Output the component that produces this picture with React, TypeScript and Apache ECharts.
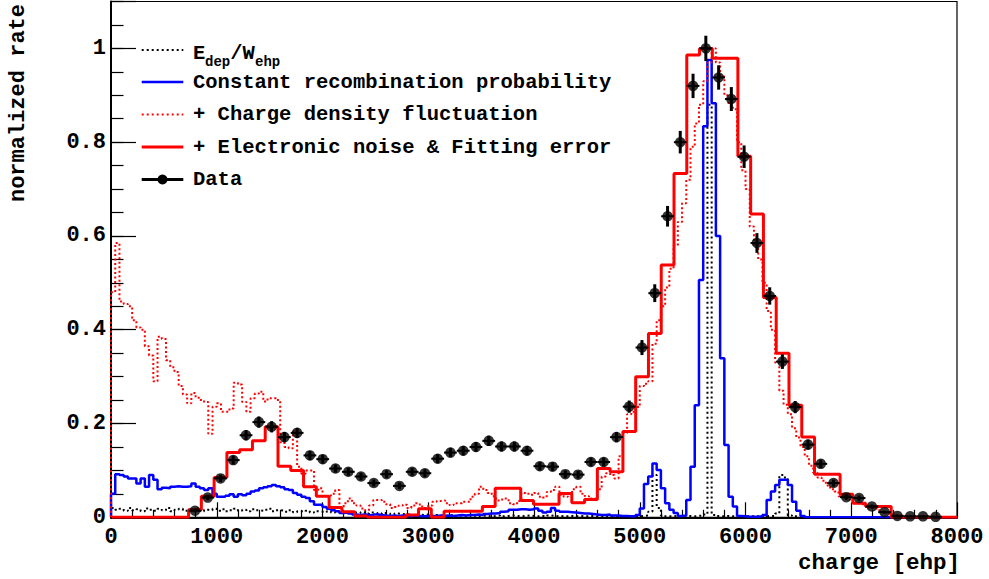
import React, { useEffect, useRef } from "react";
import * as echarts from "echarts";

// ---------------- data ----------------
// coarse binning (data and "+ Electronic noise & Fitting error")
const COARSE_X0 = 8.8;
const COARSE_W = 120.8;
// fine binning (simulated histograms)
const FINE_X0 = 0;
const FINE_W = 40;

const xTicks = [0, 1000, 2000, 3000, 4000, 5000, 6000, 7000, 8000];
const yTicks = [0, 0.2, 0.4, 0.6, 0.8, 1];

// + Electronic noise & Fitting error (66 coarse bins)
const redSolid = [
  0, 0, 0, 0, 0, 0, 0.016, 0.045, 0.085, 0.138,
  0.144, 0.163, 0.193, 0.109, 0.1, 0.065, 0.045, 0.021, 0.012, 0.003,
  0, 0, 0, 0.005, 0.018, 0, 0.013, 0.013, 0.013, 0.023,
  0.062, 0.062, 0.036, 0.028, 0.028, 0.051, 0.031, 0.038, 0.104, 0.097,
  0.183, 0.3, 0.392, 0.538, 0.733, 0.986, 1.0, 0.979, 0.979, 0.77,
  0.647, 0.469, 0.35, 0.239, 0.171, 0.092, 0.092, 0.049, 0.03, 0.023,
  0.023, 0, 0, 0, 0, 0,
];

// Data points
const dataX = [
  794, 915, 1036, 1156, 1277, 1398, 1519, 1640, 1760, 1881,
  2002, 2123, 2244, 2364, 2485, 2606, 2727, 2848, 2968, 3089,
  3210, 3331, 3451, 3572, 3693, 3814, 3934, 4055, 4176, 4296,
  4417, 4538, 4659, 4780, 4900, 5021, 5142, 5263, 5383, 5504,
  5625, 5746, 5866, 5987, 6108, 6229, 6349, 6470, 6591, 6712,
  6832, 6953, 7074, 7195, 7315, 7436, 7557, 7678, 7798,
];
const dataY = [
  0.014, 0.042, 0.083, 0.122, 0.175, 0.203, 0.193, 0.171, 0.18, 0.132,
  0.124, 0.104, 0.097, 0.087, 0.073, 0.092, 0.067, 0.097, 0.094, 0.125,
  0.138, 0.142, 0.15, 0.163, 0.151, 0.151, 0.142, 0.109, 0.108, 0.092,
  0.091, 0.118, 0.118, 0.171, 0.236, 0.362, 0.478, 0.642, 0.8, 0.92,
  1.0, 0.938, 0.892, 0.769, 0.585, 0.472, 0.332, 0.235, 0.155, 0.114,
  0.073, 0.043, 0.041, 0.023, 0.011, 0.003, 0.002, 0.002, 0.001,
];
const dataErr = [
  0.003, 0.0055, 0.008, 0.0095, 0.011, 0.012, 0.012, 0.011, 0.011, 0.01,
  0.0095, 0.0087, 0.0084, 0.008, 0.0073, 0.0082, 0.007, 0.0084, 0.0083, 0.0095,
  0.01, 0.01, 0.0105, 0.011, 0.0105, 0.0105, 0.01, 0.009, 0.009, 0.0082,
  0.0082, 0.0093, 0.0093, 0.011, 0.013, 0.016, 0.019, 0.022, 0.024, 0.026,
  0.027, 0.026, 0.0255, 0.024, 0.021, 0.0185, 0.0155, 0.013, 0.0106, 0.009,
  0.0073, 0.0056, 0.0055, 0.004, 0.0028, 0.0015, 0.0012, 0.0012, 0.0009,
];

// Constant recombination probability (200 fine bins)
const blueFine = [
  0.05, 0.092, 0.09, 0.087, 0.083, 0.083, 0.072, 0.083, 0.065, 0.09,
  0.08, 0.06, 0.063, 0.062, 0.065, 0.066, 0.065, 0.065, 0.066, 0.072,
  0.065, 0.062, 0.058, 0.062, 0.05, 0.044, 0.044, 0.046, 0.049, 0.044,
  0.049, 0.047, 0.05, 0.055, 0.057, 0.062, 0.064, 0.066, 0.069, 0.066,
  0.064, 0.06, 0.058, 0.052, 0.048, 0.044, 0.041, 0.034, 0.027, 0.027,
  0.022, 0.018, 0.015, 0.013, 0.009, 0.01, 0.008, 0.006, 0.005, 0.006,
  0.005, 0.004, 0.006, 0.005, 0.004, 0.003, 0.004, 0.003, 0.004, 0.005,
  0.003, 0.004, 0.003, 0.002, 0.003, 0.003, 0.003, 0.004, 0.003, 0.004,
  0.003, 0.004, 0.005, 0.004, 0.005, 0.005, 0.006, 0.005, 0.007, 0.008,
  0.008, 0.009, 0.012, 0.013, 0.016, 0.016, 0.017, 0.017, 0.016, 0.017,
  0.019, 0.014, 0.01, 0.012, 0.02, 0.014, 0.012, 0.012, 0.011, 0.01,
  0.009, 0.008, 0.008, 0.007, 0.006, 0.005, 0.005, 0.006, 0.004, 0.004,
  0.003, 0.003, 0.002, 0.002, 0.005, 0.019, 0.071, 0.087, 0.115, 0.101,
  0.062, 0.03, 0.016, 0.009, 0.003, 0.004, 0.037, 0.108, 0.239, 0.506,
  0.834, 0.975, 0.883, 0.6, 0.339, 0.154, 0.044, 0.023, 0.003, 0.002,
  0.001, 0.001, 0.001, 0.002, 0.005, 0.037, 0.055, 0.069, 0.08, 0.08,
  0.069, 0.033, 0.014, 0.003, 0, 0, 0, 0, 0, 0,
  0, 0, 0, 0, 0, 0, 0, 0, 0, 0,
  0, 0, 0, 0, 0, 0, 0, 0, 0, 0,
  0, 0, 0, 0, 0, 0, 0, 0, 0, 0,
];

// + Charge density fluctuation (200 fine bins)
const redDotFine = [
  0.48, 0.585, 0.46, 0.455, 0.45, 0.42, 0.405, 0.4, 0.365, 0.345,
  0.29, 0.385, 0.38, 0.335, 0.32, 0.31, 0.28, 0.262, 0.243, 0.265,
  0.255, 0.25, 0.246, 0.178, 0.236, 0.243, 0.225, 0.225, 0.232, 0.287,
  0.283, 0.246, 0.225, 0.254, 0.264, 0.268, 0.247, 0.254, 0.254, 0.25,
  0.16, 0.15, 0.147, 0.183, 0.108, 0.093, 0.1, 0.1, 0.058, 0.062,
  0.045, 0.046, 0.05, 0.058, 0.022, 0.03, 0.04, 0.03, 0.025, 0.019,
  0.015, 0.025, 0.037, 0.037, 0.033, 0.028, 0.02, 0.022, 0.025, 0.027,
  0.02, 0.025, 0.03, 0.023, 0.02, 0.025, 0.033, 0.035, 0.036, 0.03,
  0.026, 0.03, 0.03, 0.033, 0.033, 0.044, 0.05, 0.065, 0.058, 0.052,
  0.045, 0.036, 0.038, 0.04, 0.03, 0.028, 0.035, 0.052, 0.05, 0.048,
  0.052, 0.044, 0.042, 0.054, 0.058, 0.065, 0.048, 0.044, 0.052, 0.06,
  0.065, 0.05, 0.045, 0.04, 0.04, 0.06, 0.087, 0.094, 0.09, 0.083,
  0.13, 0.18, 0.22, 0.225, 0.235, 0.28, 0.285, 0.29, 0.37, 0.42,
  0.45, 0.49, 0.53, 0.58, 0.63, 0.67, 0.72, 0.79, 0.84, 0.88,
  0.93, 0.97, 1.0, 0.97, 0.94, 0.9, 0.88, 0.87, 0.8, 0.74,
  0.7, 0.62, 0.58, 0.55, 0.5, 0.44, 0.4, 0.33, 0.27, 0.24,
  0.22, 0.19, 0.17, 0.15, 0.13, 0.11, 0.095, 0.085, 0.078, 0.068,
  0.06, 0.055, 0.045, 0.04, 0.038, 0.035, 0.03, 0.028, 0.025, 0.02,
  0.02, 0.015, 0.012, 0.01, 0.008, 0.005, 0.004, 0.003, 0.002, 0.002,
  0.001, 0.001, 0.001, 0, 0, 0, 0, 0, 0, 0,
];

// E_dep / W_ehp (200 fine bins)
const edepFine = [
  0.02, 0.016, 0.018, 0.014, 0.02, 0.015, 0.017, 0.013, 0.019, 0.016,
  0.014, 0.018, 0.015, 0.02, 0.013, 0.016, 0.018, 0.014, 0.017, 0.015,
  0.019, 0.013, 0.016, 0.015, 0.018, 0.014, 0.017, 0.013, 0.015, 0.018,
  0.014, 0.016, 0.013, 0.017, 0.015, 0.014, 0.016, 0.018, 0.013, 0.015,
  0.014, 0.012, 0.015, 0.011, 0.013, 0.012, 0.014, 0.01, 0.013, 0.012,
  0.011, 0.013, 0.01, 0.012, 0.009, 0.011, 0.012, 0.01, 0.009, 0.011,
  0.008, 0.01, 0.009, 0.007, 0.009, 0.008, 0.006, 0.008, 0.007, 0.006,
  0.007, 0.005, 0.006, 0.005, 0.006, 0.004, 0.005, 0.004, 0.003, 0.004,
  0.005, 0.003, 0.004, 0.003, 0.004, 0.005, 0.003, 0.004, 0.003, 0.002,
  0.003, 0.004, 0.002, 0.003, 0.004, 0.003, 0.002, 0.003, 0.004, 0.003,
  0.002, 0.003, 0.002, 0.004, 0.003, 0.002, 0.003, 0.002, 0.003, 0.002,
  0.003, 0.002, 0.002, 0.003, 0.002, 0.002, 0.003, 0.002, 0.002, 0.003,
  0.002, 0.003, 0.002, 0.003, 0.002, 0.003, 0.004, 0.012, 0.09, 0.02,
  0.004, 0.002, 0.002, 0.003, 0.002, 0.002, 0.003, 0.002, 0.003, 0.004,
  0.006, 0.88, 0.005, 0.003, 0.002, 0.003, 0.002, 0.002, 0.003, 0.002,
  0.002, 0.002, 0.002, 0.002, 0.002, 0.003, 0.003, 0.008, 0.09, 0.085,
  0.004, 0.002, 0.001, 0.001, 0, 0, 0, 0, 0, 0,
  0, 0, 0, 0, 0, 0, 0, 0, 0, 0,
  0, 0, 0, 0, 0, 0, 0, 0, 0, 0,
  0, 0, 0, 0, 0, 0, 0, 0, 0, 0,
];

// ---------------- helpers ----------------
const FONT = '"Liberation Mono", "Courier New", monospace';

function stepPoints(values: number[], x0: number, w: number, xEnd?: number) {
  const pts: number[][] = [[x0, 0]];
  values.forEach((v, i) => {
    pts.push([x0 + i * w, v]);
    pts.push([x0 + (i + 1) * w, v]);
  });
  const last = x0 + values.length * w;
  pts.push([last, 0]);
  if (xEnd !== undefined && xEnd > last) pts.push([xEnd, 0]);
  return pts;
}

function buildOption() {
  const errData = dataX.map((x, i) => [x, dataY[i], dataErr[i]]);
  const dots = dataX.map((x, i) => [x, dataY[i]]);
  const halfBin = COARSE_W / 2;

  const legendX1 = 141.7;
  const legendX2 = 183.3;
  const textX = 193;
  const rows = [50, 82, 114.5, 147, 179.5];
  const legendFont = 20.5;

  const txt = (x: number, y: number, text: string, size: number) => ({
    type: "text",
    x,
    y,
    silent: true,
    style: {
      text,
      fill: "#000",
      fontFamily: FONT,
      fontWeight: "bold",
      fontSize: size,
      align: "left",
      verticalAlign: "middle",
    },
  });

  const graphic: any[] = [
    // row 1: E_dep / W_ehp
    {
      type: "line",
      silent: true,
      shape: { x1: legendX1, y1: rows[0], x2: legendX2, y2: rows[0] },
      style: { stroke: "#000", lineWidth: 2, lineDash: [2, 3] },
    },
    txt(textX, rows[0] + 3, "E", legendFont),
    txt(textX + 12, rows[0] + 12, "dep", 14),
    txt(textX + 37.3, rows[0] + 3, "/W", legendFont),
    txt(textX + 62, rows[0] + 12, "ehp", 14),
    // row 2
    {
      type: "line",
      silent: true,
      shape: { x1: legendX1, y1: rows[1], x2: legendX2, y2: rows[1] },
      style: { stroke: "#0000ff", lineWidth: 2.5 },
    },
    txt(textX, rows[1], "Constant recombination probability", legendFont),
    // row 3
    {
      type: "line",
      silent: true,
      shape: { x1: legendX1, y1: rows[2], x2: legendX2, y2: rows[2] },
      style: { stroke: "#ff0000", lineWidth: 2, lineDash: [2, 3] },
    },
    txt(textX, rows[2], "+ Charge density fluctuation", legendFont),
    // row 4
    {
      type: "line",
      silent: true,
      shape: { x1: legendX1, y1: rows[3], x2: legendX2, y2: rows[3] },
      style: { stroke: "#ff0000", lineWidth: 3 },
    },
    txt(textX, rows[3], "+ Electronic noise & Fitting error", legendFont),
    // row 5
    {
      type: "line",
      silent: true,
      shape: { x1: legendX1, y1: rows[4], x2: legendX2, y2: rows[4] },
      style: { stroke: "#000", lineWidth: 3 },
    },
    {
      type: "circle",
      silent: true,
      shape: { cx: (legendX1 + legendX2) / 2, cy: rows[4], r: 5 },
      style: { fill: "#000" },
    },
    txt(textX, rows[4], "Data", legendFont),
    // axis titles
    {
      type: "text",
      x: 18,
      y: 4,
      rotation: Math.PI / 2,
      silent: true,
      style: {
        text: "normalized rate",
        fill: "#000",
        fontFamily: FONT,
        fontWeight: "bold",
        fontSize: 22,
        align: "right",
        verticalAlign: "middle",
      },
    },
    {
      type: "text",
      x: 960,
      y: 563,
      silent: true,
      style: {
        text: "charge [ehp]",
        fill: "#000",
        fontFamily: FONT,
        fontWeight: "bold",
        fontSize: 22.5,
        align: "right",
        verticalAlign: "middle",
      },
    },
  ];

  return {
    animation: false,
    backgroundColor: "#ffffff",
    grid: {
      left: 111,
      right: 32,
      top: 1.5,
      bottom: 61.7,
      show: true,
      borderColor: "#000",
      borderWidth: 1.2,
      backgroundColor: "transparent",
    },
    xAxis: {
      type: "value",
      min: xTicks[0],
      max: xTicks[xTicks.length - 1],
      interval: 1000,
      axisLine: { show: true, onZero: false, lineStyle: { color: "#000", width: 2 } },
      axisTick: { show: true, inside: true, length: 15, lineStyle: { color: "#000", width: 1.2 } },
      minorTick: { show: true, splitNumber: 5, length: 7.5, lineStyle: { color: "#000", width: 1.2 } },
      axisLabel: {
        color: "#000",
        fontFamily: FONT,
        fontWeight: "bold",
        fontSize: 22,
        margin: 9,
        formatter: (v: number) => (xTicks.includes(v) ? String(v) : ""),
      },
      splitLine: { show: false },
    },
    yAxis: [
      {
        type: "value",
        min: 0,
        max: 1.1,
        interval: 0.2,
        axisLine: { show: true, onZero: false, lineStyle: { color: "#000", width: 2 } },
        axisTick: { show: true, inside: true, length: 25, lineStyle: { color: "#000", width: 1.2 } },
        axisLabel: {
          color: "#000",
          fontFamily: FONT,
          fontWeight: "bold",
          fontSize: 22,
          margin: 5,
          formatter: (v: number) => {
            const r = Number(v.toFixed(2));
            return yTicks.includes(r) ? String(r) : "";
          },
        },
        splitLine: { show: false },
      },
      {
        type: "value",
        min: 0,
        max: 1.1,
        interval: 0.05,
        position: "left",
        axisLine: { show: false },
        axisTick: { show: true, inside: true, length: 12.5, lineStyle: { color: "#000", width: 1.2 } },
        axisLabel: { show: false },
        splitLine: { show: false },
      },
    ],
    graphic,
    series: [
      {
        name: "E_dep/W_ehp",
        type: "line",
        data: stepPoints(edepFine, FINE_X0, FINE_W),
        showSymbol: false,
        symbol: "none",
        silent: true,
        z: 2,
        lineStyle: { color: "#000", width: 2, type: [2, 3] },
      },
      {
        name: "Constant recombination probability",
        type: "line",
        data: stepPoints(blueFine, FINE_X0, FINE_W),
        showSymbol: false,
        symbol: "none",
        silent: true,
        z: 3,
        lineStyle: { color: "#0000ff", width: 2.5 },
      },
      {
        name: "+ Charge density fluctuation",
        type: "line",
        data: stepPoints(redDotFine, FINE_X0, FINE_W),
        showSymbol: false,
        symbol: "none",
        silent: true,
        z: 4,
        lineStyle: { color: "#ff0000", width: 2, type: [2, 2.5] },
      },
      {
        name: "+ Electronic noise & Fitting error",
        type: "line",
        data: stepPoints(redSolid, COARSE_X0, COARSE_W, 8000),
        showSymbol: false,
        symbol: "none",
        silent: true,
        z: 5,
        lineStyle: { color: "#ff0000", width: 3 },
      },
      {
        name: "errors",
        type: "custom",
        silent: true,
        z: 6,
        data: errData,
        renderItem: (_params: any, api: any) => {
          const x = api.value(0);
          const y = api.value(1);
          const e = api.value(2);
          const top = api.coord([x, y + e]);
          const bot = api.coord([x, y - e]);
          const l = api.coord([x - halfBin, y]);
          const r = api.coord([x + halfBin, y]);
          return {
            type: "group",
            children: [
              {
                type: "line",
                shape: { x1: top[0], y1: top[1], x2: bot[0], y2: bot[1] },
                style: { stroke: "#000", lineWidth: 3 },
              },
              {
                type: "line",
                shape: { x1: l[0], y1: l[1], x2: r[0], y2: r[1] },
                style: { stroke: "#000", lineWidth: 2 },
              },
            ],
          };
        },
      },
      {
        name: "Data",
        type: "scatter",
        data: dots,
        symbol: "circle",
        symbolSize: 10.5,
        silent: true,
        z: 7,
        itemStyle: { color: "#000" },
      },
    ],
  };
}

export default function App() {
  const ref = useRef<HTMLDivElement>(null);
  useEffect(() => {
    if (!ref.current) return;
    const chart = echarts.init(ref.current, undefined, { renderer: "svg" });
    chart.setOption(buildOption() as any);
    return () => chart.dispose();
  }, []);
  return (
    <div
      ref={ref}
      style={{ position: "fixed", left: 0, top: 0, width: 989, height: 579, background: "#fff" }}
    />
  );
}
